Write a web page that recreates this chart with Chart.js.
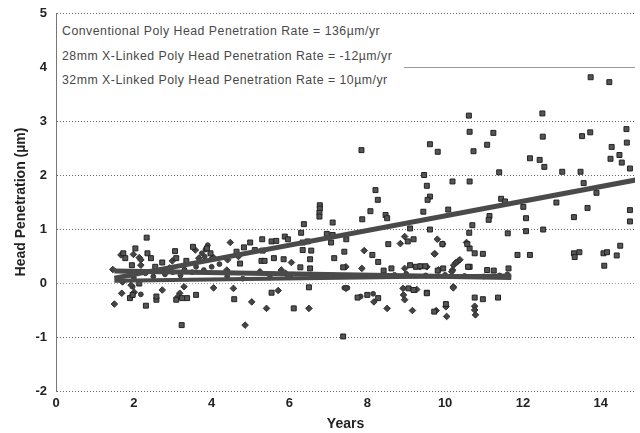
<!DOCTYPE html>
<html>
<head>
<meta charset="utf-8">
<script src="https://cdn.jsdelivr.net/npm/chart.js@4/dist/chart.umd.min.js"></script>
<style>
  html, body { margin: 0; padding: 0; background: #fff; overflow: hidden; }
  #wrap { position: relative; width: 640px; height: 433px; }
  #legendBox {
    position: absolute; left: 57px; top: 19px; width: 347px; height: 74px;
    background: #fff; font-family: Arial, "Liberation Sans", sans-serif;
    font-size: 12.3px; letter-spacing: 0.5px; color: #484848;
  }
  #legendBox div { position: absolute; left: 5px; white-space: nowrap; }
</style>
</head>
<body>
<div id="wrap">
  <canvas id="c" width="640" height="433"></canvas>
  <div id="legendBox">
    <div id="lg0" style="top:5px">Conventional Poly Head Penetration Rate = 136µm/yr</div>
    <div id="lg1" style="top:30px">28mm X-Linked Poly Head Penetration Rate = -12µm/yr</div>
    <div id="lg2" style="top:54px">32mm X-Linked Poly Head Penetration Rate = 10µm/yr</div>
  </div>
</div>
<script>
// ---------- DATA ----------
const legendLabels = [
  "Conventional Poly Head Penetration Rate = 136µm/yr",
  "28mm X-Linked Poly Head Penetration Rate = -12µm/yr",
  "32mm X-Linked Poly Head Penetration Rate = 10µm/yr"
];
const xTickValues = [0, 2, 4, 6, 8, 10, 12, 14];
const yTickValues = [-2, -1, 0, 1, 2, 3, 4, 5];

// Conventional poly (squares)
const convYears = [13.74,14.22,10.61,12.50,14.66,10.63,11.24,12.51,13.52,13.73,9.61,9.81,11.08,10.73,14.67,14.28,14.48,14.25,14.54,14.75,12.18,12.43,12.55,9.46,9.53,9.61,9.55,10.19,10.63,11.39,13.01,13.48,13.56,13.89,11.44,11.54,12.86,12.01,13.66,10.08,9.44,14.75,11.14,11.12,12.08,13.31,14.75,10.70,9.61,10.62,11.61,12.08,12.52,10.63,10.76,10.97,11.86,12.18,13.31,13.33,13.45,14.07,14.16,14.09,14.41,14.50,10.63,11.08,11.25,11.63,
  7.85,8.21,8.27,8.08,8.47,8.51,6.78,6.78,6.77,6.77,7.87,7.11,9.10,6.37,6.30,6.96,7.11,7.46,8.54,9.04,9.19,9.93,10.57,7.41,8.13,8.28,8.42,8.62,9.10,9.25,9.36,9.49,9.81,9.95,10.59,
  5.30,5.54,5.66,5.88,5.96,6.34,6.47,7.07,4.99,5.11,5.31,6.34,6.56,5.28,5.36,5.60,5.85,6.53,7.15,6.28,6.53,7.38,4.64,4.83,4.73,
  2.33,1.73,1.78,2.04,2.35,2.44,2.73,3.06,3.09,3.52,3.88,3.97,1.95,2.55,3.35,2.14,1.90,1.97,2.31,2.58,2.58,3.09,3.24,3.37,3.23,3.60,
  4.58,5.54,6.11,6.50,7.38,8.00,8.28,7.75,9.06,9.19,9.53,9.72,10.02,9.53,10.76,10.97,11.36];
const convPen = [3.81,3.72,3.10,3.14,2.85,2.80,2.78,2.71,2.72,2.79,2.57,2.43,2.56,2.44,2.60,2.52,2.37,2.30,2.23,2.12,2.31,2.28,2.15,2.00,1.80,1.60,1.54,1.88,1.88,2.05,2.06,2.06,1.85,1.67,1.56,1.51,1.49,1.41,1.39,1.36,1.32,1.35,1.24,1.17,1.20,1.22,1.14,1.07,0.99,0.93,0.92,0.96,0.99,0.64,0.55,0.54,0.52,0.52,0.55,0.48,0.57,0.55,0.57,0.32,0.51,0.69,0.30,0.24,0.23,0.27,
  2.46,1.72,1.54,1.33,1.26,1.20,1.44,1.38,1.30,1.23,1.18,1.12,1.01,1.09,0.93,0.91,0.89,0.81,0.72,0.77,0.81,0.72,0.72,0.58,0.52,0.39,0.23,0.27,0.33,0.30,0.31,0.31,0.23,0.27,0.30,
  0.81,0.77,0.78,0.86,0.81,0.75,0.77,0.75,0.75,0.61,0.60,0.61,0.60,0.41,0.41,0.46,0.44,0.44,0.46,0.29,0.27,0.29,0.58,0.66,0.36,
  0.84,0.55,0.46,0.64,0.55,0.46,0.38,0.59,0.46,0.67,0.64,0.55,0.33,0.30,0.41,-0.01,-0.28,-0.22,-0.42,-0.31,-0.25,-0.31,-0.28,-0.28,-0.78,-0.22,
  -0.30,-0.18,-0.47,-0.08,-0.99,-0.22,-0.28,-0.27,-0.10,-0.13,-0.18,-0.53,-0.39,-0.19,-0.27,-0.30,-0.27];

// 28mm X-linked poly (diamonds)
const x28Years = [9.80,9.94,10.55,9.74,10.34,10.28,10.22,9.36,9.53,9.83,10.19,8.85,8.96,9.72,7.92,7.45,7.86,8.96,10.17,10.29,10.38,
  4.48,4.41,4.69,6.05,4.39,5.24,5.79,5.90,6.00,
  1.67,1.99,2.14,2.18,2.18,2.92,2.99,3.58,3.67,4.05,1.46,1.71,1.93,1.69,1.95,2.01,1.50,2.73,3.18,3.14,3.29,4.05,
  4.56,5.03,5.41,6.50,4.86,5.71,7.45,8.17,8.51,8.92,8.93,8.96,9.16,10.04,10.21,9.27,9.77,10.02,10.76,10.76,10.78,10.21];
const x28Pen = [0.81,0.72,0.75,0.54,0.41,0.38,0.33,0.30,0.30,0.24,0.24,0.73,0.86,0.54,0.60,0.30,0.27,0.27,0.21,0.38,0.43,
  0.75,0.43,0.49,0.38,0.24,0.21,0.24,0.18,0.12,
  0.52,0.53,0.47,0.43,0.33,0.28,0.41,0.61,0.46,0.47,0.25,0.02,-0.04,-0.19,-0.24,-0.17,-0.39,-0.13,-0.19,-0.25,-0.07,-0.09,
  -0.10,-0.35,-0.47,-0.47,-0.78,-0.14,-0.10,-0.35,-0.47,-0.10,-0.22,-0.31,-0.51,-0.62,-0.07,-0.12,-0.51,-0.44,-0.43,-0.50,-0.59,-0.09];

// 32mm X-linked poly (small round marks)
const x32Years = [7.41,7.45,7.49,7.83,8.15,3.84,3.82,4.01,3.75,3.90,1.97,2.18,1.90,2.10,2.30,2.50,2.60,2.80,3.00,3.20,3.30,3.50,3.60,3.80,4.00,4.20,2.00,4.40,4.80,5.50,6.60,7.00,8.70,9.00,9.50,10.00,10.50,11.00,11.40,11.60];
const x32Pen = [-0.09,-0.09,-0.09,-0.25,-0.20,0.62,0.49,0.46,0.55,0.70,-0.07,-0.21,0.15,0.20,0.18,0.12,0.22,0.16,0.20,0.14,0.25,0.20,0.30,0.24,0.30,0.35,0.10,0.12,0.08,0.10,0.14,0.12,0.15,0.17,0.14,0.15,0.13,0.12,0.14,0.16];

// Trend lines (endpoints)
const trendConvX = [1.5, 15.5];
const trendConvY = [0.09, 1.99];
const trend28X = [1.5, 11.7];
const trend28Y = [0.22, 0.10];
const trend32X = [1.5, 11.7];
const trend32Y = [0.04, 0.14];

// ---------- BUILD ----------
const pts = (xs, ys) => xs.map((x, i) => ({ x: x, y: ys[i] }));
const FONT = 'Arial, "Liberation Sans", sans-serif';

const datasets = [
  { type: 'line', label: 'trendConv', data: pts(trendConvX, trendConvY), borderColor: '#4a4a4a', borderWidth: 5, pointRadius: 0, showLine: true, fill: false, order: 0 },
  { type: 'line', label: 'trend28', data: pts(trend28X, trend28Y), borderColor: '#4a4a4a', borderWidth: 5, pointRadius: 0, showLine: true, fill: false, order: 0 },
  { type: 'line', label: 'trend32', data: pts(trend32X, trend32Y), borderColor: '#4a4a4a', borderWidth: 4, pointRadius: 0, showLine: true, fill: false, order: 0 },
  { label: legendLabels[0], data: pts(convYears, convPen), pointStyle: 'rect', pointRadius: 3.5, backgroundColor: '#555', borderColor: '#222', borderWidth: 1, order: 1 },
  { label: legendLabels[1], data: pts(x28Years, x28Pen), pointStyle: 'rectRot', pointRadius: 3.3, backgroundColor: '#444', borderColor: '#333', borderWidth: 1, order: 1 },
  { label: legendLabels[2], data: pts(x32Years, x32Pen), pointStyle: 'circle', pointRadius: 2.4, backgroundColor: '#444', borderColor: '#333', borderWidth: 1, order: 1 }
];

new Chart(document.getElementById('c'), {
  type: 'scatter',
  data: { datasets },
  options: {
    responsive: false,
    animation: false,
    layout: { padding: { top: 13, right: 0, bottom: 0, left: 0 } },
    plugins: { legend: { display: false }, tooltip: { enabled: false } },
    scales: {
      x: {
        type: 'linear', min: 0, max: 14.88,
        afterBuildTicks: s => { s.ticks = xTickValues.map(v => ({ value: v })); },
        afterFit: s => { s.height = 42; s.paddingLeft = 0; s.paddingRight = 0; },
        grid: { display: false, drawTicks: false },
        border: { display: false },
        ticks: { color: '#222', padding: 5, font: { family: FONT, size: 13, weight: 'bold' } },
        title: { display: true, text: 'Years', color: '#222', padding: { top: 0, bottom: 0 }, font: { family: FONT, size: 14, weight: 'bold' } }
      },
      y: {
        type: 'linear', min: -2, max: 5,
        afterBuildTicks: s => { s.ticks = yTickValues.map(v => ({ value: v })); },
        afterFit: s => { s.width = 56; s.paddingTop = 0; s.paddingBottom = 0; },
        grid: {
          drawTicks: false, lineWidth: 1,
          color: ctx => (ctx.tick && (ctx.tick.value === 4 || ctx.tick.value === 0)) ? '#9a9a9a' : '#6a6a6a'
        },
        border: {
          display: true, color: '#777', width: 1,
          dash: ctx => (ctx.tick && ctx.tick.value === 4) ? [] : [1, 2]
        },
        ticks: { color: '#222', padding: 9, font: { family: FONT, size: 13, weight: 'bold' } },
        title: { display: true, text: 'Head Penetration (µm)', color: '#222', padding: { top: 13, bottom: 0 }, font: { family: FONT, size: 14, weight: 'bold' } }
      }
    }
  }
});
</script>
</body>
</html>
